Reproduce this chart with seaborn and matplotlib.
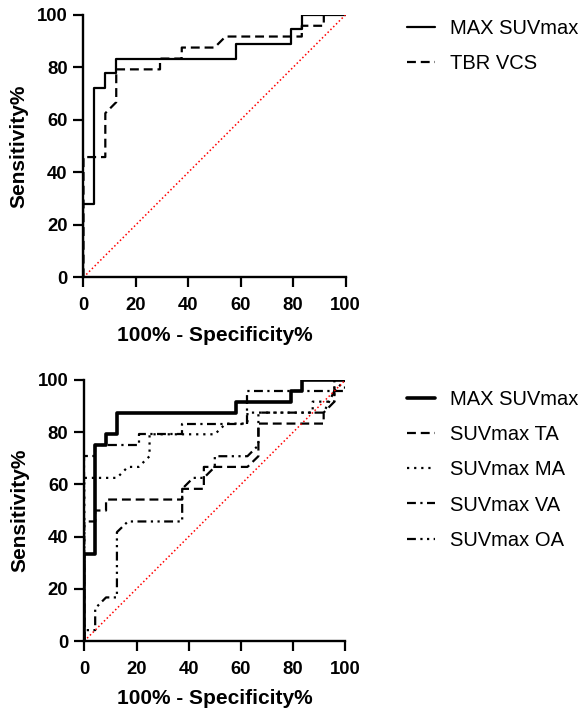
import matplotlib
matplotlib.use("Agg")
import matplotlib.pyplot as plt
import seaborn as sns

sns.set_style("ticks")
plt.rcParams['font.family'] = ['Liberation Sans', 'DejaVu Sans']
plt.rcParams.update({'text.color': 'black', 'axes.labelcolor': 'black',
                     'xtick.color': 'black', 'ytick.color': 'black',
                     'axes.edgecolor': 'black'})

# ROC vertices (100% - specificity, sensitivity)
# top panel
top_max_x = [0, 0, 4.17, 4.17, 8.33, 8.33, 12.5, 12.5, 58.3, 58.3, 79.2, 79.2, 83.3, 83.3, 100]
top_max_y = [0, 27.8, 27.8, 72.2, 72.2, 77.8, 77.8, 83.3, 83.3, 88.9, 88.9, 94.4, 94.4, 100, 100]
tbr_x = [0, 0, 8.33, 8.33, 12.5, 12.5, 29.2, 29.2, 37.5, 37.5, 50, 54.2, 83.3, 83.3, 91.7, 91.7, 100]
tbr_y = [0, 45.8, 45.8, 62.5, 66.7, 79.2, 79.2, 83.3, 83.3, 87.5, 87.5, 91.7, 91.7, 95.8, 95.8, 100, 100]

# bottom panel
bot_max_x = [0, 0, 4.17, 4.17, 8.33, 8.33, 12.5, 12.5, 58.3, 58.3, 79.2, 79.2, 83.3, 83.3, 100]
bot_max_y = [0, 33.3, 33.3, 75, 75, 79.2, 79.2, 87.5, 87.5, 91.7, 91.7, 95.8, 95.8, 100, 100]
ta_x = [0, 0, 4.17, 4.17, 8.33, 8.33, 37.5, 37.5, 45.8, 45.8, 62.5, 66.7, 66.7, 91.7, 91.7, 95.8, 95.8, 100]
ta_y = [0, 45.8, 45.8, 50, 50, 54.2, 54.2, 58.3, 58.3, 66.7, 66.7, 70.8, 83.3, 83.3, 87.5, 91.7, 100, 100]
ma_x = [0, 0, 12.5, 16.7, 20.8, 25, 25, 50, 54.2, 62.5, 62.5, 87.5, 87.5, 95.8, 95.8, 100]
ma_y = [0, 62.5, 62.5, 66.7, 66.7, 70.8, 79.2, 79.2, 83.3, 83.3, 87.5, 87.5, 91.7, 91.7, 100, 100]
va_x = [0, 0, 4.17, 4.17, 20.8, 20.8, 37.5, 37.5, 62.5, 62.5, 100, 100]
va_y = [0, 70.8, 70.8, 75, 75, 79.2, 79.2, 83.3, 83.3, 95.8, 95.8, 100]
oa_x = [0, 0, 4.17, 4.17, 8.33, 12.5, 12.5, 16.7, 37.5, 37.5, 41.7, 45.8, 50, 50, 62.5, 66.7, 66.7, 91.7, 95.8, 100]
oa_y = [0, 4.17, 4.17, 12.5, 16.7, 16.7, 41.7, 45.8, 45.8, 58.3, 62.5, 62.5, 66.7, 70.8, 70.8, 75, 87.5, 87.5, 95.8, 100]

ticks = [0, 20, 40, 60, 80, 100]

fig = plt.figure(figsize=(5.85, 7.12), dpi=100)
ax1 = fig.add_axes([0.1427, 0.6105, 0.448, 0.3688])
ax2 = fig.add_axes([0.1441, 0.0997, 0.4462, 0.3666])


def roc(ax, x, y, ls, lw, label):
    sns.lineplot(x=x, y=y, sort=False, estimator=None, ax=ax, color='black',
                 linestyle=ls, linewidth=lw, label=label)


roc(ax1, top_max_x, top_max_y, '-', 1.6, 'MAX SUVmax')
roc(ax1, tbr_x, tbr_y, (0, (4, 2.2)), 1.6, 'TBR VCS')

roc(ax2, bot_max_x, bot_max_y, '-', 2.6, 'MAX SUVmax')
roc(ax2, ta_x, ta_y, (0, (4, 2.2)), 1.6, 'SUVmax TA')
roc(ax2, ma_x, ma_y, (0, (1, 2.2)), 1.6, 'SUVmax MA')
roc(ax2, va_x, va_y, (0, (4, 2, 1, 2)), 1.6, 'SUVmax VA')
roc(ax2, oa_x, oa_y, (0, (4, 2, 1, 2, 1, 2)), 1.6, 'SUVmax OA')

for ax, top in [(ax1, 0.973), (ax2, 0.452)]:
    sns.lineplot(x=[0, 100], y=[0, 100], ax=ax, color='red', linestyle=(0, (1, 1.6)),
                 linewidth=1.1, legend=False)
    ax.set_xlim(0, 100)
    ax.set_ylim(0, 100)
    ax.set_xticks(ticks)
    ax.set_yticks(ticks)
    ax.tick_params(width=1.6, length=7, labelsize=13.3)
    ax.tick_params(axis='x', pad=7.5)
    ax.tick_params(axis='y', pad=4.5)
    for t in ax.get_xticklabels() + ax.get_yticklabels():
        t.set_fontweight('bold')
    for s in ['left', 'bottom']:
        ax.spines[s].set_linewidth(1.7)
    sns.despine(ax=ax)
    ax.set_xlabel('100% - Specificity%', fontsize=15, fontweight='bold', labelpad=8)
    ax.set_ylabel('Sensitivity%', fontsize=15, fontweight='bold', labelpad=6)
    handles, labels = ax.get_legend_handles_labels()
    ax.legend(handles, labels, loc='upper left', bbox_to_anchor=(0.695, top),
              bbox_transform=fig.transFigure, frameon=False, fontsize=14.5,
              handlelength=1.4, handletextpad=0.75, labelspacing=0.8,
              borderaxespad=0, borderpad=0)

fig.savefig('out.png', dpi=100)
